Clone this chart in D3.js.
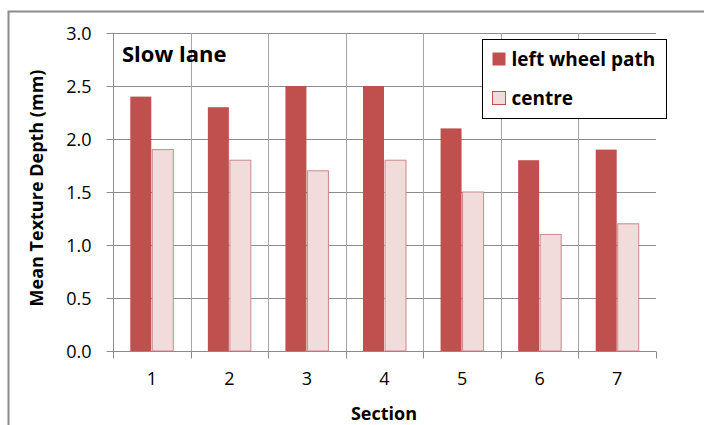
<!DOCTYPE html>
<html>
<head>
<meta charset="utf-8">
<script src="https://cdn.jsdelivr.net/npm/d3@7"></script>
<style>
  body { margin: 0; background: #fff; }
  text { font-family: "Open Sans", Lato, sans-serif; fill: #000; }
</style>
</head>
<body>
<div id="chart"></div>
<script>
var sections = ["1", "2", "3", "4", "5", "6", "7"];
var leftWheelPath = [2.4, 2.3, 2.5, 2.5, 2.1, 1.8, 1.9];
var centre = [1.9, 1.8, 1.7, 1.8, 1.5, 1.1, 1.2];
var seriesNames = ["left wheel path", "centre"];
var yTicks = [0, 0.5, 1.0, 1.5, 2.0, 2.5, 3.0];

var canvasWidth = 704, canvasHeight = 425;
var plot = {left: 113, top: 33, right: 656, bottom: 351};

var svg = d3.select("#chart").append("svg")
    .attr("width", canvasWidth)
    .attr("height", canvasHeight);

/*Outer chart border*/
svg.append("rect")
    .attr("x", 8.5).attr("y", 11.5)
    .attr("width", 720).attr("height", 440)
    .attr("fill", "none").attr("stroke", "#8c8c8c").attr("stroke-width", 2);

var x = d3.scaleBand().domain(sections).range([plot.left, plot.right]);
var y = d3.scaleLinear().domain([0, 3]).range([plot.bottom, plot.top]);
var color = d3.scaleOrdinal().domain(seriesNames).range(["#c0504d", "#f2dcdb"]);

var data = sections.map(function (s, i) {
    return {section: s, values: [leftWheelPath[i], centre[i]]};
});

/*Horizontal gridlines*/
svg.append("g")
    .attr("transform", "translate(" + plot.left + ",0)")
    .call(d3.axisLeft(y).tickValues(yTicks).tickSize(-(plot.right - plot.left)).tickFormat(""))
    .call(function (g) { g.select(".domain").remove(); })
    .selectAll("line").attr("stroke", "#8c8c8c");

/*Vertical gridlines at category boundaries*/
svg.append("g").selectAll("line")
    .data(sections.slice(1))
    .join("line")
    .attr("x1", function (d) { return Math.round(x(d)) + 0.5; })
    .attr("x2", function (d) { return Math.round(x(d)) + 0.5; })
    .attr("y1", plot.top).attr("y2", plot.bottom)
    .attr("stroke", "#a6a6a6");

/*Bars*/
var barW = 21;
var groups = svg.append("g").selectAll("g")
    .data(data)
    .join("g")
    .attr("transform", function (d) { return "translate(" + (x(d.section) + x.bandwidth() / 2) + ",0)"; });

groups.selectAll("rect")
    .data(function (d) { return d.values.map(function (v, i) { return {name: seriesNames[i], value: v, i: i}; }); })
    .join("rect")
    .attr("x", function (d) { return d.i === 0 ? -barW - 0.5 : 0.5; })
    .attr("y", function (d) { return y(d.value); })
    .attr("width", barW)
    .attr("height", function (d) { return plot.bottom - y(d.value); })
    .attr("fill", function (d) { return color(d.name); })
    .attr("stroke", function (d) { return d.i === 0 ? "none" : "#c98a88"; })
    .attr("stroke-width", 1);

/*Y axis*/
var yAxis = svg.append("g")
    .attr("transform", "translate(" + (plot.left + 0.5) + ",0)")
    .call(d3.axisLeft(y).tickValues(yTicks).tickSize(7).tickPadding(15).tickFormat(d3.format(".1f")));
yAxis.select(".domain").attr("stroke", "#8c8c8c").attr("d", "M0," + plot.top + "V" + plot.bottom);
yAxis.selectAll("line").attr("stroke", "#8c8c8c");
yAxis.selectAll("text").style("font-size", "18px").attr("dy", "0.35em");

/*X axis*/
var xAxis = svg.append("g")
    .attr("transform", "translate(0," + (plot.bottom + 0.5) + ")")
    .call(d3.axisBottom(x).tickSize(0).tickPadding(21));
xAxis.select(".domain").attr("stroke", "#8c8c8c").attr("d", "M" + plot.left + ",0H" + plot.right);
xAxis.selectAll("text").style("font-size", "18px");
xAxis.append("g").selectAll("line")
    .data(sections.concat(["end"]))
    .join("line")
    .attr("x1", function (d, i) { return Math.round(plot.left + i * x.step()) + 0.5; })
    .attr("x2", function (d, i) { return Math.round(plot.left + i * x.step()) + 0.5; })
    .attr("y1", 0).attr("y2", 7)
    .attr("stroke", "#8c8c8c");

/*Axis titles*/
svg.append("text")
    .attr("x", 384).attr("y", 420)
    .attr("text-anchor", "middle")
    .style("font-size", "18px").style("font-weight", "bold")
    .text("Section");

svg.append("text")
    .attr("transform", "translate(43,188) rotate(-90)")
    .attr("text-anchor", "middle")
    .style("font-size", "18px").style("font-weight", "bold")
    .text("Mean Texture Depth (mm)");

/*Panel title*/
svg.append("text")
    .attr("x", 122).attr("y", 62)
    .style("font-size", "22px").style("font-weight", "bold")
    .text("Slow lane");

/*Legend*/
var legend = svg.append("g").attr("transform", "translate(482.5,39.5)");
legend.append("rect")
    .attr("width", 184).attr("height", 79)
    .attr("fill", "#fff").attr("stroke", "#000");
var items = legend.selectAll("g.item")
    .data(seriesNames)
    .join("g")
    .attr("class", "item")
    .attr("transform", function (d, i) { return "translate(10," + (13 + i * 39) + ")"; });
items.append("rect")
    .attr("width", 13).attr("height", 13)
    .attr("fill", function (d) { return color(d); })
    .attr("stroke", function (d, i) { return i === 0 ? "none" : "#c0504d"; });
items.append("text")
    .attr("x", 19).attr("y", 13)
    .style("font-size", "19px").style("font-weight", "bold")
    .text(function (d) { return d; });
</script>
</body>
</html>
